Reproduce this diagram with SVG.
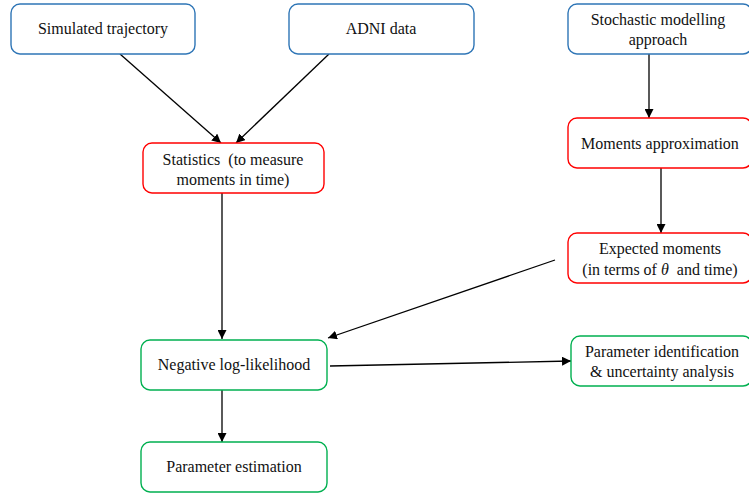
<svg xmlns="http://www.w3.org/2000/svg" width="749" height="495" viewBox="0 0 749 495">
<style>
.box{fill:#fff;stroke-width:1.4}
.b{stroke:#2E75B6}
.r{stroke:#FF0000}
.g{stroke:#00B050}
text{font-family:"Liberation Serif","Times New Roman","DejaVu Serif",serif;font-size:16px;fill:#111;text-anchor:middle}
.c{stroke:#000;stroke-width:1.3;fill:none;marker-end:url(#ah)}
</style>
<defs>
<marker id="ah" viewBox="0 0 10 10" refX="10" refY="5" markerWidth="9" markerHeight="9" markerUnits="userSpaceOnUse" orient="auto">
<path d="M0,0 L10,5 L0,10 z" fill="#000"/>
</marker>
</defs>
<rect width="749" height="495" fill="#fff"/>
<g id="connectors">
<line class="c" x1="120" y1="54" x2="221" y2="143"/>
<line class="c" x1="329" y1="54" x2="236" y2="143"/>
<line class="c" x1="222" y1="193" x2="222" y2="339"/>
<line class="c" x1="649" y1="54" x2="649" y2="118"/>
<line class="c" x1="661" y1="168" x2="661" y2="233"/>
<line class="c" x1="555" y1="260" x2="328" y2="338"/>
<line class="c" x1="330" y1="366" x2="571" y2="361"/>
<line class="c" x1="222" y1="390" x2="222" y2="442"/>
</g>
<g id="simulated">
<rect class="box b" x="11" y="4" width="184" height="50" rx="9"/>
<text x="103" y="34">Simulated trajectory</text>
</g>
<g id="adni">
<rect class="box b" x="289" y="4" width="185" height="50" rx="9"/>
<text x="381" y="34">ADNI data</text>
</g>
<g id="stochastic">
<rect class="box b" x="568" y="4" width="184" height="50" rx="9"/>
<text x="658" y="25">Stochastic modelling</text>
<text x="658" y="45">approach</text>
</g>
<g id="statistics">
<rect class="box r" x="143" y="143" width="181" height="50" rx="9"/>
<text x="233" y="165" xml:space="preserve">Statistics  (to measure</text>
<text x="233" y="185">moments in time)</text>
</g>
<g id="moments">
<rect class="box r" x="568" y="118" width="184" height="50" rx="9"/>
<text x="660" y="149">Moments approximation</text>
</g>
<g id="expected">
<rect class="box r" x="568" y="233" width="184" height="50" rx="9"/>
<text x="660" y="254">Expected moments</text>
<text x="660" y="275" xml:space="preserve">(in terms of <tspan font-style="italic">θ</tspan>  and time)</text>
</g>
<g id="negloglik">
<rect class="box g" x="141" y="340" width="186" height="50" rx="9"/>
<text x="234" y="370">Negative log-likelihood</text>
</g>
<g id="paramident">
<rect class="box g" x="571" y="336" width="181" height="50" rx="9"/>
<text x="662" y="357">Parameter identification</text>
<text x="662" y="377">&amp; uncertainty analysis</text>
</g>
<g id="paramest">
<rect class="box g" x="141" y="442" width="186" height="50" rx="9"/>
<text x="234" y="472">Parameter estimation</text>
</g>
</svg>
